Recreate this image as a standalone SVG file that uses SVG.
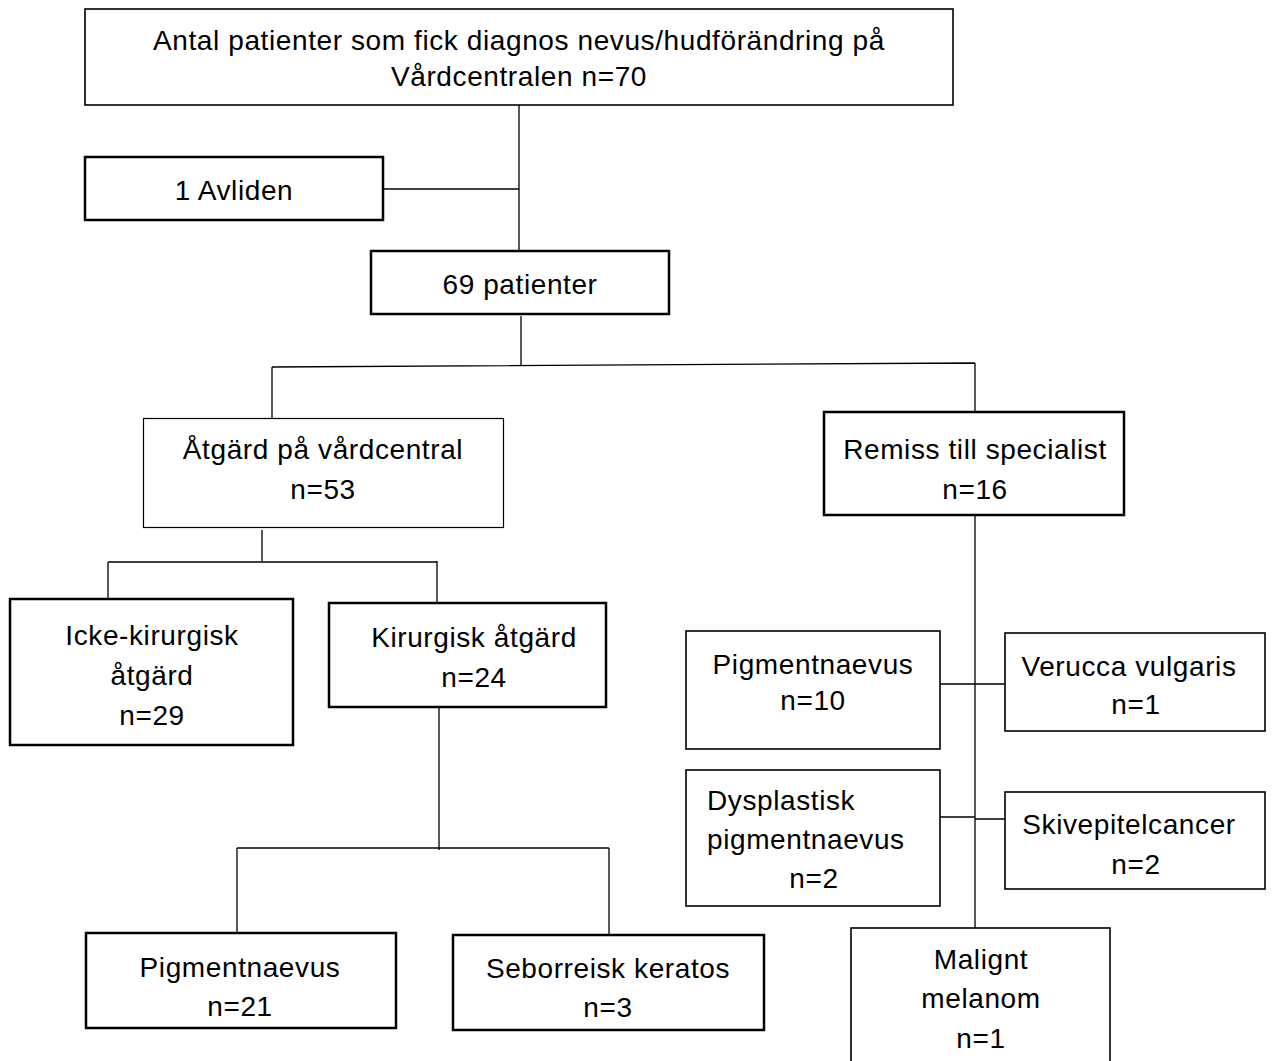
<svg xmlns="http://www.w3.org/2000/svg" width="1273" height="1061" viewBox="0 0 1273 1061">
<style>
.b{fill:#fff;stroke:#000;stroke-width:2.5}
.m{fill:#fff;stroke:#000;stroke-width:1.6}
.t{fill:#fff;stroke:#000;stroke-width:1.2}
.c{fill:none;stroke:#000;stroke-width:1.3}
text{font-family:"Liberation Sans",Arial,sans-serif;font-size:28px;letter-spacing:0.6px;fill:#000;text-anchor:middle}
.l{text-anchor:start}
</style>
<rect width="1273" height="1061" fill="#fff"/>
<g id="connectors">
<path class="c" d="M519 105V252M383 189H519"/>
<path class="c" d="M521 316V366M272 367L975 363M272 367V418M975 363V412"/>
<path class="c" d="M262 530V561M108 562H437M108 562V600M437 561V603"/>
<path class="c" d="M439 707V850M237 848H609M237 848V933M609 848V935"/>
<path class="c" d="M975 515V928M940 684H1005M940 817H975V819H1005"/>
</g>
<g id="n1"><rect class="m" x="85" y="9" width="868" height="96"/><text x="519" y="50">Antal patienter som fick diagnos nevus/hudförändring på</text><text x="519" y="86">Vårdcentralen n=70</text></g>
<g id="n2"><rect class="b" x="85" y="157" width="298" height="63"/><text x="234" y="200">1 Avliden</text></g>
<g id="n3"><rect class="b" x="371" y="251" width="298" height="63"/><text x="520" y="294">69 patienter</text></g>
<g id="n4"><rect class="t" x="143.5" y="418.5" width="360" height="109"/><text x="323" y="459">Åtgärd på vårdcentral</text><text x="323" y="499">n=53</text></g>
<g id="n5"><rect class="b" x="824" y="412" width="300" height="103"/><text x="975" y="459">Remiss till specialist</text><text x="975" y="499">n=16</text></g>
<g id="n6"><rect class="b" x="10" y="599" width="283" height="146"/><text x="152" y="645">Icke-kirurgisk</text><text x="152" y="685">åtgärd</text><text x="152" y="725">n=29</text></g>
<g id="n7"><rect class="b" x="329" y="603" width="277" height="104"/><text x="474" y="647">Kirurgisk åtgärd</text><text x="474" y="687">n=24</text></g>
<g id="n8"><rect class="b" x="86" y="933" width="310" height="95"/><text x="240" y="977">Pigmentnaevus</text><text x="240" y="1016">n=21</text></g>
<g id="n9"><rect class="b" x="453" y="935" width="311" height="95"/><text x="608" y="978">Seborreisk keratos</text><text x="608" y="1017">n=3</text></g>
<g id="n10"><rect class="m" x="686" y="631" width="254" height="118"/><text x="813" y="674">Pigmentnaevus</text><text x="813" y="710">n=10</text></g>
<g id="n11"><rect class="m" x="1005" y="633" width="260" height="98"/><text x="1129" y="676">Verucca vulgaris</text><text x="1136" y="714">n=1</text></g>
<g id="n12"><rect class="m" x="686" y="770" width="254" height="136"/><text x="707" y="810" class="l">Dysplastisk</text><text x="707" y="849" class="l">pigmentnaevus</text><text x="814" y="888">n=2</text></g>
<g id="n13"><rect class="m" x="1005" y="792" width="260" height="97"/><text x="1129" y="834">Skivepitelcancer</text><text x="1136" y="874">n=2</text></g>
<g id="n14"><rect class="m" x="851" y="928" width="259" height="140"/><text x="981" y="969">Malignt</text><text x="981" y="1008">melanom</text><text x="981" y="1048">n=1</text></g>
</svg>
